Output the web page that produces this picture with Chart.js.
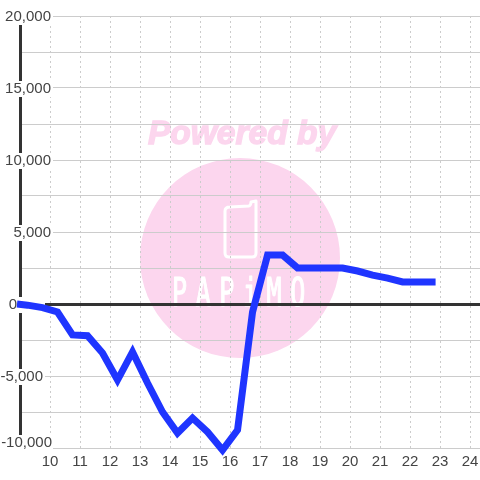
<!DOCTYPE html>
<html>
<head>
<meta charset="utf-8">
<style>
  html, body { margin: 0; padding: 0; background: #fff; }
  #wrap { width: 480px; height: 480px; }
</style>
<script src="https://cdn.jsdelivr.net/npm/chart.js@4"></script>
</head>
<body>
<div id="wrap"><canvas id="chart" width="480" height="480"></canvas></div>
<script>
const hours = [8.9, 9.25, 9.75, 10.25, 10.75, 11.25, 11.75, 12.25, 12.75, 13.25, 13.75, 14.25, 14.75, 15.25, 15.75, 16.25, 16.75, 17.25, 17.75, 18.25, 18.75, 19.25, 19.75, 20.25, 20.75, 21.25, 21.75, 22.25, 22.85];
const values = [0, -80, -250, -555, -2150, -2200, -3400, -5280, -3330, -5490, -7500, -8960, -7920, -8890, -10140, -8750, -555, 3400, 3400, 2500, 2500, 2500, 2500, 2290, 2010, 1800, 1530, 1530, 1530];
const yTickValues = [20000, 15000, 10000, 5000, 0, -5000, -10000];
const yTickLabels = ["20,000", "15,000", "10,000", "5,000", "0", "-5,000", "-10,000"];
const xHidden = [9];

const FONT = '15px "Liberation Sans", Arial, sans-serif';

// ロゴと透かし（グリッドの下に描く）
const watermark = {
  id: 'watermark',
  beforeDraw(chart) {
    const c = chart.ctx;
    c.save();
    c.fillStyle = '#fcd6ee';
    c.strokeStyle = '#fcd6ee';
    c.beginPath();
    c.arc(240, 258, 100, 0, Math.PI * 2);
    c.fill();

    c.font = 'italic bold 33.5px "Liberation Sans", Arial, sans-serif';
    c.textAlign = 'center';
    c.textBaseline = 'middle';
    c.lineWidth = 1.4;
    c.fillText('Powered by', 242, 135);
    c.strokeText('Powered by', 242, 135);

    // phone icon
    c.strokeStyle = '#fff';
    c.lineWidth = 3;
    c.lineJoin = 'round';
    c.beginPath();
    c.moveTo(230, 207);
    c.lineTo(249, 206);
    c.quadraticCurveTo(251, 205, 251, 202);
    c.lineTo(256, 201);
    c.lineTo(256, 253);
    c.quadraticCurveTo(256, 257, 252, 257);
    c.lineTo(229, 257);
    c.quadraticCurveTo(225, 257, 225, 253);
    c.lineTo(225, 211);
    c.quadraticCurveTo(225, 207, 230, 207);
    c.stroke();

    c.fillStyle = '#fff';
    c.font = '25px "DejaVu Sans Mono", monospace';
    c.textAlign = 'left';
    c.textBaseline = 'alphabetic';
    c.translate(172, 306);
    c.scale(1.0, 1.55);
    c.letterSpacing = '8.6px';
    c.lineWidth = 0.8;
    c.fillText('PAPiMO', 0, 0);
    c.strokeText('PAPiMO', 0, 0);
    c.restore();
  }
};

// y 軸ラベルは白い箱の上に載る
const yLabels = {
  id: 'yLabels',
  beforeDatasetsDraw(chart) {
    const c = chart.ctx;
    const y = chart.scales.y;
    const textRight = [51, 51, 51, 51, 17, 43, 52];
    const boxRight = [53, 53, 53, 53, 45, 45, 53];
    const shift = [1, 1, 1, 1, 1, 1, -5];
    c.save();
    c.font = FONT;
    c.textAlign = 'right';
    c.textBaseline = 'middle';
    yTickValues.forEach((v, i) => {
      const py = y.getPixelForValue(v) + shift[i];
      c.fillStyle = '#fff';
      c.fillRect(0, py - 8, boxRight[i], 16);
      c.fillStyle = '#444';
      c.fillText(yTickLabels[i], textRight[i], py);
    });
    c.restore();
  }
};

new Chart(document.getElementById('chart'), {
  type: 'line',
  data: {
    datasets: [{
      data: hours.map((h, i) => ({ x: h, y: values[i] })),
      borderColor: '#1f35ff',
      borderWidth: 7,
      pointRadius: 0,
      tension: 0,
      fill: false,
      clip: false
    }]
  },
  plugins: [watermark, yLabels],
  options: {
    responsive: false,
    animation: false,
    devicePixelRatio: 1,
    layout: { padding: { left: 20, top: 16, right: 0, bottom: 0 } },
    plugins: { legend: { display: false }, tooltip: { enabled: false } },
    scales: {
      x: {
        type: 'linear',
        min: 9,
        max: 24.33,
        afterFit(s) { s.height = 32; s.paddingRight = 0; s.paddingLeft = 0; },
        border: { display: false, dash: [2, 3] },
        grid: {
          color: '#ccc',
          lineWidth: 1,
          drawTicks: false
        },
        ticks: {
          stepSize: 1,
          includeBounds: false,
          autoSkip: false,
          maxRotation: 0,
          padding: 5,
          color: '#444',
          font: { family: '"Liberation Sans", Arial, sans-serif', size: 15 },
          callback: v => xHidden.includes(v) ? '' : String(v)
        }
      },
      y: {
        min: -10000,
        max: 20000,
        afterFit(s) { s.width = 0; s.paddingTop = 0; s.paddingBottom = 0; },
        border: { display: true, color: '#333', width: 3 },
        grid: {
          color: ctx => ctx.tick.value === 0 ? '#333' : '#ccc',
          lineWidth: ctx => ctx.tick.value === 0 ? 3 : 1,
          drawTicks: false
        },
        ticks: { display: false, stepSize: 2500, includeBounds: false }
      }
    }
  }
});
</script>
</body>
</html>
